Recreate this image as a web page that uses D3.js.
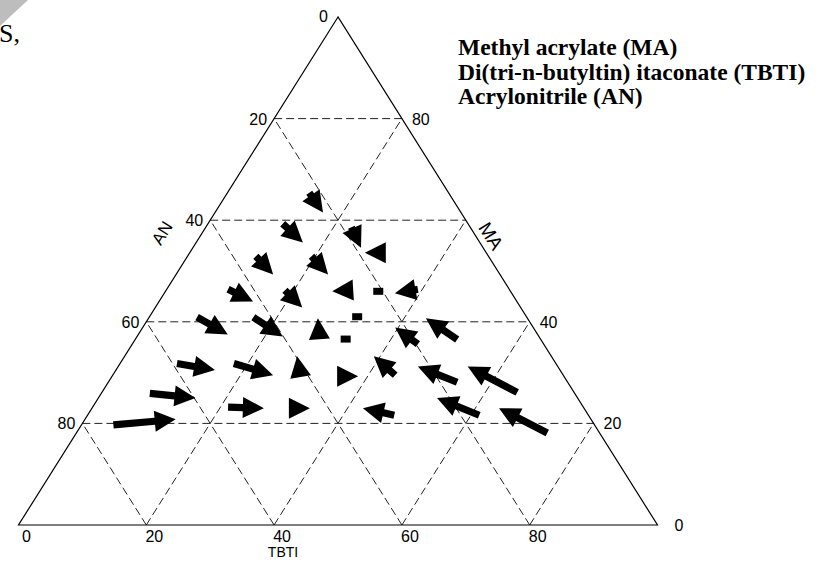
<!DOCTYPE html>
<html>
<head>
  <title>Ternary composition drift</title>
  <script src="https://d3js.org/d3.v7.min.js" charset="utf-8"></script>
  <style>
    body { margin: 0; background: white; }
  </style>
</head>
<body>
<div class="page"></div>
<script>
// ---- data (percent compositions, AN = 100 - MA - TBTI) ----
var gridLevels  = [20, 40, 60, 80];
var bottomTicks = [0, 20, 40, 60, 80];      // TBTI
var leftTicks   = [20, 40, 60, 80];         // AN
var rightTicks  = [80, 40, 20, 0];          // MA
var legendLines = ["Methyl acrylate (MA)",
                   "Di(tri-n-butyltin) itaconate (TBTI)",
                   "Acrylonitrile (AN)"];

// arrows: start composition -> end composition
var startMA   = [65.4, 59.3, 58.6, 53.6, 52.9, 52.9, 46.2, 46.4, 46.4, 46.2, 40.9, 40.9, 37.3, 36.5, 35.6, 29.5,
                 28.1, 26.1, 21.6, 21.6, 18.1, 29.3, 31.8, 31.8, 25.9, 19.7, 23.2, 23.0, 29.9];
var startTBTI = [12.8, 11.7, 22.8, 30.1, 10.7, 19.4, 28.6, 39.3,  9.6, 18.6,  7.5, 16.3, 28.4, 50.4, 44.7, 44.2,
                 54.6, 65.0, 48.0, 61.3, 73.7, 35.7,  8.9, 17.8,  7.6,  5.0, 21.2, 31.3, 29.1];
var endMA     = [61.5, 55.6, 54.6, 53.6, 49.3, 49.3, 46.0, 45.6, 44.0, 42.8, 37.5, 37.1, 40.7, 40.7, 38.9, 33.2,
                 31.2, 31.2, 23.0, 25.0, 23.0, 29.3, 30.5, 29.5, 25.0, 20.8, 23.0, 23.0, 33.2];
var endTBTI   = [16.9, 16.7, 26.3, 27.4, 15.2, 23.8, 26.1, 36.1, 14.7, 23.0, 14.0, 22.8, 26.5, 43.4, 39.5, 39.0,
                 46.9, 54.7, 42.4, 53.0, 63.7, 38.5, 15.5, 25.1, 15.2, 14.2, 26.9, 34.1, 27.0];

// stationary points (no drift)
var pointMA   = [46.0, 41.0, 36.6];
var pointTBTI = [33.3, 32.5, 32.9];

var width = 826;
var height = 562;

var svg = d3.select(".page")
    .append("svg")
    .attr("width", width)
    .attr("height", height);

// MA runs bottom -> apex, TBTI along the base
var yScale = d3.scaleLinear().domain([0, 100]).range([525, 17]);
var xScale = d3.scaleLinear().domain([0, 100]).range([18.5, 657.5]);

function project(ma, tbti) {
  return [xScale(tbti + ma / 2), yScale(ma)];
}

// corner fragment + clipped word
svg.append("path")
    .attr("d", "M0,0L28,0L0,26Z")
    .attr("fill", "#bdbdbd");
svg.append("text")
    .attr("x", -1)
    .attr("y", 42)
    .attr("font-family", "'Liberation Serif', 'Times New Roman', serif")
    .attr("font-size", "26px")
    .text("S,");

// dashed grid
var grid = svg.append("g")
    .attr("stroke", "#222")
    .attr("stroke-width", 1)
    .attr("stroke-dasharray", "8,4")
    .attr("fill", "none");

gridLevels.forEach(function(v) {
  var p;
  // constant MA (horizontal)
  p = [project(v, 0), project(v, 100 - v)];
  grid.append("line").attr("x1", p[0][0]).attr("y1", p[0][1]).attr("x2", p[1][0]).attr("y2", p[1][1]);
  // constant TBTI
  p = [project(0, v), project(100 - v, v)];
  grid.append("line").attr("x1", p[0][0]).attr("y1", p[0][1]).attr("x2", p[1][0]).attr("y2", p[1][1]);
  // constant AN
  p = [project(0, 100 - v), project(100 - v, 0)];
  grid.append("line").attr("x1", p[0][0]).attr("y1", p[0][1]).attr("x2", p[1][0]).attr("y2", p[1][1]);
});

// triangle frame
var corners = [project(100, 0), project(0, 0), project(0, 100)];
svg.append("path")
    .attr("d", "M" + corners.join("L") + "Z")
    .attr("fill", "none")
    .attr("stroke", "black")
    .attr("stroke-width", 1.2);

// tick labels
var tickFont = "'Liberation Sans', Arial, sans-serif";
var ticks = svg.append("g")
    .attr("font-family", tickFont)
    .attr("font-size", "16px")
    .attr("fill", "black");

ticks.selectAll(".bt")
    .data(bottomTicks)
    .enter()
    .append("text")
    .attr("x", function(d) { return project(0, d)[0] + 8; })
    .attr("y", function(d) { return project(0, d)[1] + 17; })
    .attr("text-anchor", "middle")
    .text(function(d) { return d; });

ticks.selectAll(".lt")
    .data(leftTicks)
    .enter()
    .append("text")
    .attr("x", function(d) { return project(100 - d, 0)[0] - 7; })
    .attr("y", function(d) { return project(100 - d, 0)[1] + 6; })
    .attr("text-anchor", "end")
    .text(function(d) { return d; });

ticks.selectAll(".rt")
    .data(rightTicks)
    .enter()
    .append("text")
    .attr("x", function(d) { return project(d, 100 - d)[0] + (d == 0 ? 17 : 10); })
    .attr("y", function(d) { return project(d, 100 - d)[1] + 6; })
    .attr("text-anchor", "start")
    .text(function(d) { return d; });

ticks.append("text")
    .attr("x", project(100, 0)[0] - 10)
    .attr("y", project(100, 0)[1] + 5)
    .attr("text-anchor", "end")
    .text("0");

// axis titles
svg.append("text")
    .attr("x", 283)
    .attr("y", 557)
    .attr("text-anchor", "middle")
    .attr("font-family", tickFont)
    .attr("font-size", "14px")
    .text("TBTI");

svg.append("text")
    .attr("transform", "translate(162,233) rotate(-57.9)")
    .attr("text-anchor", "middle")
    .attr("dy", "0.35em")
    .attr("font-family", tickFont)
    .attr("font-size", "17px")
    .text("AN");

svg.append("text")
    .attr("transform", "translate(491,236) rotate(57.9)")
    .attr("text-anchor", "middle")
    .attr("dy", "0.35em")
    .attr("font-family", tickFont)
    .attr("font-size", "19px")
    .text("MA");

// legend
svg.selectAll(".legend")
    .data(legendLines)
    .enter()
    .append("text")
    .attr("x", 458)
    .attr("y", function(d, i) { return 55 + i * 24.5; })
    .attr("font-family", "'Liberation Serif', 'Times New Roman', serif")
    .attr("font-weight", "bold")
    .attr("font-size", "23.5px")
    .text(function(d) { return d; });

// arrows
var headLen = 21, headHalf = 10.5, shaftHalf = 3.6;

function arrowPath(p0, p1) {
  var dx = p1[0] - p0[0], dy = p1[1] - p0[1];
  var len = Math.sqrt(dx * dx + dy * dy);
  var ux = dx / len, uy = dy / len;
  var nx = -uy, ny = ux;
  var bx = p1[0] - ux * headLen, by = p1[1] - uy * headLen;
  var pts = [];
  if (len > headLen) {
    pts.push([p0[0] + nx * shaftHalf, p0[1] + ny * shaftHalf]);
    pts.push([bx + nx * shaftHalf, by + ny * shaftHalf]);
  }
  pts.push([bx + nx * headHalf, by + ny * headHalf]);
  pts.push(p1);
  pts.push([bx - nx * headHalf, by - ny * headHalf]);
  if (len > headLen) {
    pts.push([bx - nx * shaftHalf, by - ny * shaftHalf]);
    pts.push([p0[0] - nx * shaftHalf, p0[1] - ny * shaftHalf]);
  }
  return "M" + pts.join("L") + "Z";
}

svg.append("g")
    .selectAll("path")
    .data(d3.range(startMA.length))
    .enter()
    .append("path")
    .attr("d", function(i) {
      return arrowPath(project(startMA[i], startTBTI[i]), project(endMA[i], endTBTI[i]));
    })
    .attr("fill", "black");

svg.append("g")
    .selectAll("rect")
    .data(d3.range(pointMA.length))
    .enter()
    .append("rect")
    .attr("x", function(i) { return project(pointMA[i], pointTBTI[i])[0] - 5; })
    .attr("y", function(i) { return project(pointMA[i], pointTBTI[i])[1] - 3.5; })
    .attr("width", 10)
    .attr("height", 7)
    .attr("fill", "black");
</script>
</body>
</html>
